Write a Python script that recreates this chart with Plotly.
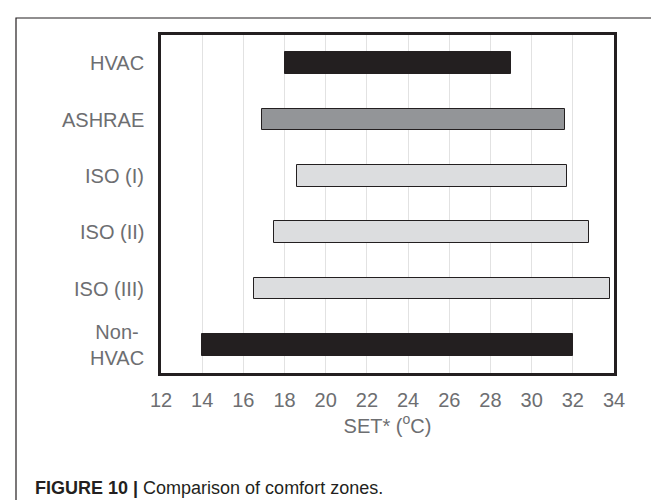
import plotly.graph_objects as go

categories = ["HVAC", "ASHRAE", "ISO (I)", "ISO (II)", "ISO (III)", "Non-<br>HVAC"]
zone_start = [18.0, 16.9, 18.6, 17.5, 16.5, 14.0]
zone_end = [29.0, 31.6, 31.7, 32.8, 33.8, 32.0]
bar_colors = ["#231f20", "#939598", "#dcdddf", "#dcdddf", "#dcdddf", "#231f20"]
x_ticks = [12, 14, 16, 18, 20, 22, 24, 26, 28, 30, 32, 34]
x_title = "SET* (<sup>o</sup>C)"
caption = "<b>FIGURE 10 |</b> Comparison of comfort zones."

W, H = 659, 500
L, R, T, B = 153, 606, 27, 365
pw, ph = R - L, B - T

def px(x):
    return (x - L) / pw

def py(y):
    return (B - y) / ph

widths = [e - s for s, e in zip(zone_start, zone_end)]

fig = go.Figure(go.Bar(
    y=categories, x=widths, base=zone_start, orientation="h",
    marker=dict(color=bar_colors, line=dict(color="#231f20", width=1)),
    width=0.38, hoverinfo="skip",
))

annotations = []
for c in categories:
    annotations.append(dict(
        x=0, xref="paper", y=c, yref="y", text=c, showarrow=False,
        xanchor="right", xshift=-15, align="center",
        font=dict(family="Liberation Sans", size=20, color="#6d6e71"),
    ))
annotations.append(dict(
    x=px(25), xref="paper", y=py(480), yref="paper", text=caption, showarrow=False,
    xanchor="left", yanchor="middle",
    font=dict(family="Liberation Sans", size=18, color="#231f20"),
))

fig.update_layout(
    width=W, height=H,
    margin=dict(l=L, r=W - R, t=T, b=H - B, pad=0),
    paper_bgcolor="white", plot_bgcolor="white",
    showlegend=False, bargap=0,
    annotations=annotations,
    shapes=[dict(type="rect", xref="paper", yref="paper",
                 x0=px(8), x1=px(680), y0=py(10), y1=py(520),
                 line=dict(color="#231f20", width=1.2), layer="below")],
    xaxis=dict(
        range=[12, 34], tickvals=x_ticks, ticktext=[str(v) for v in x_ticks],
        showgrid=True, gridcolor="#e2e2e2", gridwidth=1, zeroline=False,
        showline=True, linecolor="#231f20", linewidth=3, mirror=True,
        ticks="", ticklabelstandoff=7,
        tickfont=dict(family="Liberation Sans", size=20, color="#6d6e71"),
        title=dict(text=x_title, standoff=9,
                   font=dict(family="Liberation Sans", size=20, color="#6d6e71")),
    ),
    yaxis=dict(
        categoryorder="array", categoryarray=categories, autorange="reversed",
        showticklabels=False, showgrid=False, zeroline=False,
        showline=True, linecolor="#231f20", linewidth=3, mirror=True, ticks="",
    ),
)

fig.write_html("out.html")
